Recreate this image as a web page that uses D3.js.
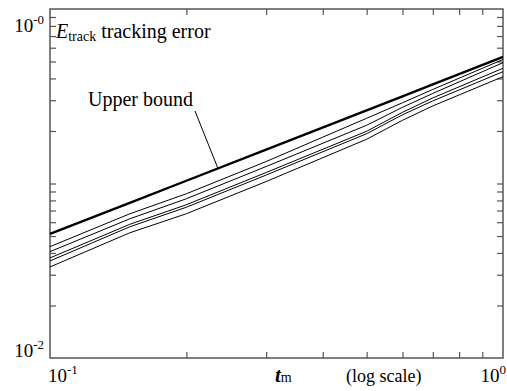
<!DOCTYPE html>
<html>
<head>
<meta charset="utf-8">
<script src="https://cdn.jsdelivr.net/npm/d3@7"></script>
<style>
  body { margin: 0; background: #fff; }
</style>
</head>
<body>
<div id="chart"></div>
<script>
// sample points of t_m
const tm = [0.1, 0.15, 0.2, 0.3, 0.5, 0.6, 0.7, 1.0];
// upper bound (thick line)
const upperBound = [0.0514, 0.0775, 0.1037, 0.1565, 0.2628, 0.3161, 0.3697, 0.531];
// tracking error curves (thin lines)
const err1 = [0.04347, 0.06704, 0.08735, 0.1336, 0.2365, 0.2902, 0.3461, 0.5137];
const err2 = [0.04069, 0.06275, 0.08178, 0.1251, 0.2156, 0.2734, 0.3283, 0.4926];
const err3 = [0.03746, 0.05837, 0.07557, 0.1156, 0.1992, 0.2559, 0.3094, 0.4575];
const err4 = [0.0360, 0.05647, 0.07311, 0.1118, 0.1928, 0.2476, 0.2974, 0.4373];
const err5 = [0.03326, 0.05217, 0.0671, 0.1026, 0.1793, 0.2303, 0.2784, 0.4095];
const xDomain = [0.1, 1];
const yDomain = [0.01, 1];

const W = 507, H = 391;
const margin = { top: 9, right: 4, bottom: 33, left: 50 };
const width = W - margin.left - margin.right;
const height = H - margin.top - margin.bottom;
const serif = "'Liberation Serif', 'Times New Roman', Times, 'DejaVu Serif', serif";

const svg = d3.select('#chart').append('svg')
  .attr('width', W)
  .attr('height', H)
  .attr('font-family', serif)
  .style('font-family', serif);

const g = svg.append('g')
  .attr('transform', `translate(${margin.left},${margin.top})`);

const x = d3.scaleLog().domain(xDomain).range([0, width]);
const y = d3.scaleLog().domain(yDomain).range([height, 0]);

const xTicks = d3.range(2, 10).map(d => d * 0.1);
const yTicks = d3.range(2, 10).map(d => d * 0.01).concat([0.1]).concat(d3.range(2, 10).map(d => d * 0.1));

const axisColor = '#555';
const tickLen = 6;

// inward ticks on all four sides
function styleAxis(sel) {
  sel.select('.domain').remove();
  sel.selectAll('.tick line').attr('stroke', axisColor).attr('stroke-width', 1.2);
}
g.append('g').attr('transform', `translate(0,${height})`)
  .call(d3.axisBottom(x).tickValues(xTicks).tickSize(-tickLen).tickFormat(''))
  .call(styleAxis);
g.append('g')
  .call(d3.axisTop(x).tickValues(xTicks).tickSize(-tickLen).tickFormat(''))
  .call(styleAxis);
g.append('g')
  .call(d3.axisLeft(y).tickValues(yTicks).tickSize(-tickLen).tickFormat(''))
  .call(styleAxis);
g.append('g').attr('transform', `translate(${width},0)`)
  .call(d3.axisRight(y).tickValues(yTicks).tickSize(-tickLen).tickFormat(''))
  .call(styleAxis);

// frame
g.append('rect')
  .attr('width', width)
  .attr('height', height)
  .attr('fill', 'none')
  .attr('stroke', axisColor)
  .attr('stroke-width', 1.5);

const line = d3.line()
  .x((d, i) => x(tm[i]))
  .y(d => y(d));

[err1, err2, err3, err4, err5].forEach(s => {
  g.append('path')
    .datum(s)
    .attr('d', line)
    .attr('fill', 'none')
    .attr('stroke', '#000')
    .attr('stroke-width', 1);
});

g.append('path')
  .datum(upperBound)
  .attr('d', line)
  .attr('fill', 'none')
  .attr('stroke', '#000')
  .attr('stroke-width', 2.4);

// "Upper bound" label with leader line
g.append('line')
  .attr('x1', 145)
  .attr('y1', 102)
  .attr('x2', x(0.235))
  .attr('y2', y(0.1215))
  .attr('stroke', '#000')
  .attr('stroke-width', 1);
svg.append('text')
  .attr('x', 88)
  .attr('y', 106)
  .attr('font-size', 20)
  .text('Upper bound');

// y label
const yl = svg.append('text')
  .attr('x', 56)
  .attr('y', 38)
  .attr('font-size', 20);
yl.append('tspan').attr('font-style', 'italic').text('E');
yl.append('tspan').attr('font-size', 14).attr('dy', 3).text('track');
yl.append('tspan').attr('dy', -3).text(' tracking error');

// power-of-ten labels
function pow10(xp, yp, exp, anchor) {
  const t = svg.append('text')
    .attr('x', xp)
    .attr('y', yp)
    .attr('font-size', 19)
    .attr('text-anchor', anchor);
  t.append('tspan').text('10');
  t.append('tspan').attr('font-size', 13).attr('dy', -8).text(exp);
}
pow10(44, 32, '-0', 'end');
pow10(44, 357, '-2', 'end');
pow10(margin.left - 2, 382, '-1', 'start');
pow10(506, 382, '0', 'end');

// x label
const xl = svg.append('text')
  .attr('x', 275)
  .attr('y', 382)
  .attr('font-size', 21);
xl.append('tspan').attr('font-style', 'italic').attr('font-weight', 'bold').text('t');
xl.append('tspan').attr('font-size', 14).text('m');

svg.append('text')
  .attr('x', 346)
  .attr('y', 382)
  .attr('font-size', 18)
  .text('(log scale)');
</script>
</body>
</html>
